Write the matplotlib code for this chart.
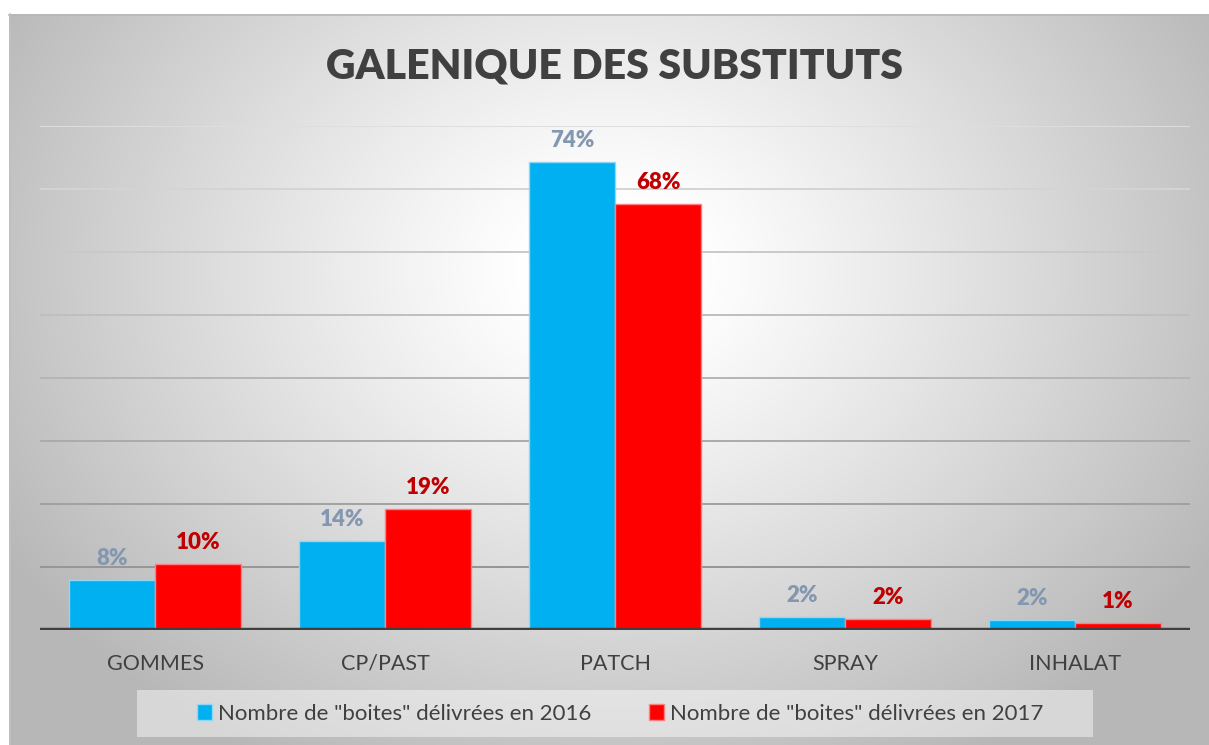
import numpy as np
import matplotlib
matplotlib.use("Agg")
import matplotlib.pyplot as plt
from matplotlib.patches import Rectangle

categories = ["GOMMES", "CP/PAST", "PATCH", "SPRAY", "INHALAT"]
values_2016 = [7.9, 14.1, 74.3, 2.1, 1.6]
values_2017 = [10.4, 19.2, 67.6, 1.7, 1.1]
labels_2016 = ["8%", "14%", "74%", "2%", "2%"]
labels_2017 = ["10%", "19%", "68%", "2%", "1%"]
series_names = ['Nombre de "boites" délivrées en 2016', 'Nombre de "boites" délivrées en 2017']
title = "GALENIQUE DES SUBSTITUTS"

FONT = ["Lato", "DejaVu Sans"]
plt.rcParams["font.family"] = FONT

W, H = 1209, 745
fig = plt.figure(figsize=(W / 100, H / 100), dpi=100)
fig.patch.set_facecolor("white")

# background radial gradient panel
bg = fig.add_axes([0, 0, 1, 1])
bg.set_xlim(0, W)
bg.set_ylim(H, 0)
bg.axis("off")
x0, y0 = 9, 14
yy, xx = np.mgrid[y0:H:2, x0:W:2]
cx, cy = 610, 270
r = np.sqrt(((xx - cx) / 700.0) ** 2 + ((yy - cy) / 560.0) ** 2)
v = np.clip(1.0 - 0.29 * np.clip(r - 0.12, 0, None) ** 1.1 / 0.9, 0.72, 1.0)
img = np.dstack([v, v, v])
bg.imshow(img, extent=[x0, W, H, y0], aspect="auto", interpolation="bilinear", zorder=0)
bg.plot([x0, W], [y0 + 0.5, y0 + 0.5], color="#b8b8b8", lw=1.2, zorder=1)
bg.plot([x0 + 0.5, x0 + 0.5], [y0, H], color="#c0c0c0", lw=1.2, zorder=1)
# legend background box
bg.add_patch(Rectangle((137, 690), 956, 47, facecolor="white", alpha=0.45, edgecolor="none", zorder=2))

left, right, base, top = 40, 1190, 630, 126
ax = fig.add_axes([left / W, 1 - base / H, (right - left) / W, (base - top) / H])
ax.patch.set_alpha(0)
ax.set_xlim(-0.5, len(categories) - 0.5)
ax.set_ylim(0, 80)

# gridlines with light-to-dark shading
grid_levels = np.arange(10, 81, 10)
for lvl in grid_levels:
    t = lvl / 80.0
    g = 0.55 + 0.32 * t
    ax.axhline(lvl, color=(g, g, g), lw=1.4, zorder=1)

x = np.arange(len(categories))
bw = 0.375
b1 = ax.bar(x - bw / 2, values_2016, bw, color="#00B0F0", edgecolor="#8fd8f5", lw=1.0, zorder=3,
            label=series_names[0])
b2 = ax.bar(x + bw / 2, values_2017, bw, color="#FF0000", edgecolor="#ff8080", lw=1.0, zorder=3,
            label=series_names[1])

for xi, v1, l1 in zip(x - bw / 2, values_2016, labels_2016):
    ax.annotate(l1, (xi, v1), xytext=(0, 8), textcoords="offset points", ha="center", va="bottom",
                fontsize=16, fontweight="heavy", color="#8497B0")
for xi, v2, l2 in zip(x + bw / 2, values_2017, labels_2017):
    ax.annotate(l2, (xi, v2), xytext=(0, 8), textcoords="offset points", ha="center", va="bottom",
                fontsize=16, fontweight="heavy", color="#C00000")

ax.axhline(0, color="#3f3f3f", lw=3.2, zorder=4)
for s in ax.spines.values():
    s.set_visible(False)
ax.set_yticks([])
ax.set_xticks(x)
ax.set_xticklabels(categories, fontsize=15.5, color="#404040")
ax.tick_params(axis="x", length=0, pad=17)

fig.text(615 / W, 1 - 66 / H, title, ha="center", va="center", fontsize=29.5, fontweight="heavy",
         color="#404040")

leg = ax.legend(loc="center", bbox_to_anchor=(620 / W, 1 - 714 / H), bbox_transform=fig.transFigure,
                ncol=2, frameon=False, fontsize=16, handlelength=0.7, handleheight=0.7,
                handletextpad=0.25, columnspacing=2.6)
for t in leg.get_texts():
    t.set_color("#404040")

fig.savefig("out.png", dpi=100)
